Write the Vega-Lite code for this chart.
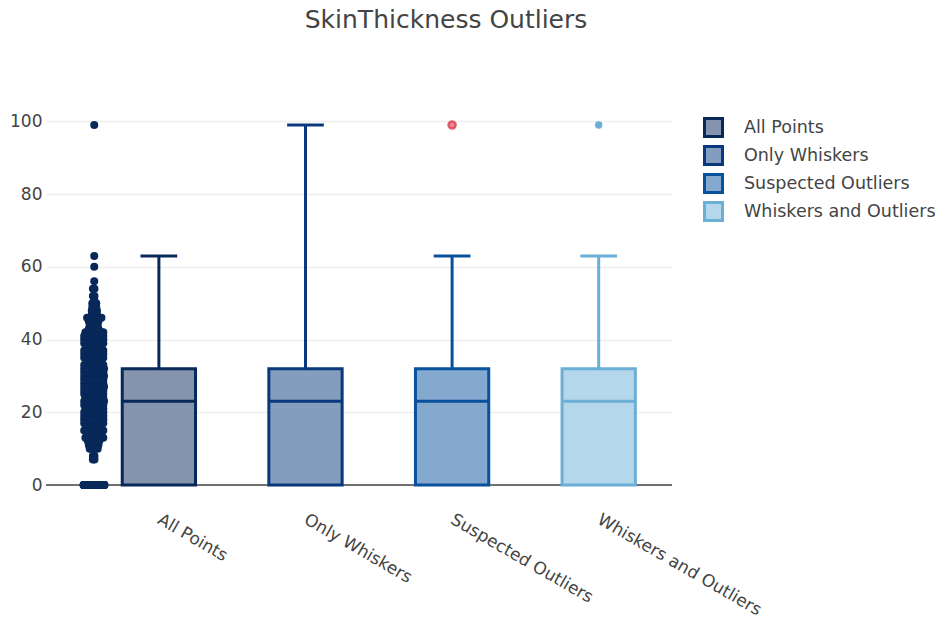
{
  "$schema": "https://vega.github.io/schema/vega-lite/v6.json",
  "autosize": {"type": "none"},
  "width": 626,
  "height": 396,
  "padding": {"left": 46, "top": 107, "right": 275, "bottom": 118},
  "background": "white",
  "title": {"text": "SkinThickness Outliers", "fontSize": 25, "font": "DejaVu Sans", "fontWeight": "normal", "color": "#444", "anchor": "middle", "frame": "group", "dx": 87, "baseline": "middle", "offset": 62},
  "config": {
    "view": {"stroke": null},
    "font": "DejaVu Sans",
    "axisY": {"grid": true, "gridColor": "#eeeeee", "gridWidth": 1.5, "domain": false, "ticks": false, "tickCount": 6, "labelFontSize": 17, "labelColor": "#444", "labelPadding": 4},
    "axisX": {"grid": false, "domain": false, "ticks": false, "labelAngle": 30, "labelAlign": "left", "labelBaseline": "middle", "labelFontSize": 17, "labelColor": "#444", "labelPadding": 15, "labelLimit": 400}
  },
  "datasets": {
    "boxes": [
      {"g": "All Points", "lo": 0, "q1": 0, "med": 23, "q3": 32, "hi": 63},
      {"g": "Only Whiskers", "lo": 0, "q1": 0, "med": 23, "q3": 32, "hi": 99},
      {"g": "Suspected Outliers", "lo": 0, "q1": 0, "med": 23, "q3": 32, "hi": 63},
      {"g": "Whiskers and Outliers", "lo": 0, "q1": 0, "med": 23, "q3": 32, "hi": 63}
    ],
    "outliers": [
      {"g": "Suspected Outliers", "v": 99, "t": "suspected"},
      {"g": "Whiskers and Outliers", "v": 99, "t": "outlier"}
    ],
    "skin": [
      {"v":0},{"v":0},{"v":0},{"v":0},{"v":0},{"v":0},{"v":0},{"v":0},{"v":0},{"v":0},
      {"v":0},{"v":0},{"v":0},{"v":0},{"v":0},{"v":0},{"v":0},{"v":0},{"v":0},{"v":0},
      {"v":0},{"v":0},{"v":0},{"v":0},{"v":0},{"v":0},{"v":0},{"v":0},{"v":0},{"v":0},
      {"v":0},{"v":0},{"v":0},{"v":0},{"v":0},{"v":0},{"v":0},{"v":0},{"v":0},{"v":0},
      {"v":0},{"v":0},{"v":0},{"v":0},{"v":0},{"v":0},{"v":0},{"v":0},{"v":0},{"v":0},
      {"v":0},{"v":0},{"v":0},{"v":0},{"v":0},{"v":0},{"v":0},{"v":0},{"v":0},{"v":0},
      {"v":0},{"v":0},{"v":0},{"v":0},{"v":0},{"v":0},{"v":0},{"v":0},{"v":0},{"v":0},
      {"v":0},{"v":0},{"v":0},{"v":0},{"v":0},{"v":0},{"v":0},{"v":0},{"v":0},{"v":0},
      {"v":0},{"v":0},{"v":0},{"v":0},{"v":0},{"v":0},{"v":0},{"v":0},{"v":0},{"v":0},
      {"v":0},{"v":0},{"v":0},{"v":0},{"v":0},{"v":0},{"v":0},{"v":0},{"v":0},{"v":0},
      {"v":0},{"v":0},{"v":0},{"v":0},{"v":0},{"v":0},{"v":0},{"v":0},{"v":0},{"v":0},
      {"v":0},{"v":0},{"v":0},{"v":0},{"v":0},{"v":0},{"v":0},{"v":0},{"v":0},{"v":0},
      {"v":0},{"v":0},{"v":0},{"v":0},{"v":0},{"v":0},{"v":0},{"v":0},{"v":0},{"v":0},
      {"v":0},{"v":0},{"v":0},{"v":0},{"v":0},{"v":0},{"v":0},{"v":0},{"v":0},{"v":0},
      {"v":0},{"v":0},{"v":0},{"v":0},{"v":0},{"v":0},{"v":0},{"v":0},{"v":0},{"v":0},
      {"v":0},{"v":0},{"v":0},{"v":0},{"v":0},{"v":0},{"v":0},{"v":0},{"v":0},{"v":0},
      {"v":0},{"v":0},{"v":0},{"v":0},{"v":0},{"v":0},{"v":0},{"v":0},{"v":0},{"v":0},
      {"v":0},{"v":0},{"v":0},{"v":0},{"v":0},{"v":0},{"v":0},{"v":0},{"v":0},{"v":0},
      {"v":0},{"v":0},{"v":0},{"v":0},{"v":0},{"v":0},{"v":0},{"v":0},{"v":0},{"v":0},
      {"v":0},{"v":0},{"v":0},{"v":0},{"v":0},{"v":0},{"v":0},{"v":0},{"v":0},{"v":0},
      {"v":0},{"v":0},{"v":0},{"v":0},{"v":0},{"v":0},{"v":0},{"v":0},{"v":0},{"v":0},
      {"v":0},{"v":0},{"v":0},{"v":0},{"v":0},{"v":0},{"v":0},{"v":0},{"v":0},{"v":0},
      {"v":0},{"v":0},{"v":0},{"v":0},{"v":0},{"v":0},{"v":0},
      {"v":7},{"v":7},{"v":8},{"v":8},
      {"v":10},{"v":10},{"v":10},{"v":10},{"v":10},
      {"v":11},{"v":11},{"v":11},{"v":11},{"v":11},{"v":11},
      {"v":12},{"v":12},{"v":12},{"v":12},{"v":12},{"v":12},{"v":12},
      {"v":13},{"v":13},{"v":13},{"v":13},{"v":13},{"v":13},{"v":13},{"v":13},{"v":13},{"v":13},{"v":13},
      {"v":14},{"v":14},{"v":14},{"v":14},{"v":14},{"v":14},
      {"v":15},{"v":15},{"v":15},{"v":15},{"v":15},{"v":15},{"v":15},{"v":15},{"v":15},{"v":15},{"v":15},{"v":15},{"v":15},{"v":15},
      {"v":16},{"v":16},{"v":16},{"v":16},{"v":16},{"v":16},
      {"v":17},{"v":17},{"v":17},{"v":17},{"v":17},{"v":17},{"v":17},{"v":17},{"v":17},{"v":17},{"v":17},{"v":17},{"v":17},{"v":17},
      {"v":18},{"v":18},{"v":18},{"v":18},{"v":18},{"v":18},{"v":18},{"v":18},{"v":18},{"v":18},{"v":18},{"v":18},{"v":18},{"v":18},{"v":18},{"v":18},{"v":18},{"v":18},{"v":18},{"v":18},
      {"v":19},{"v":19},{"v":19},{"v":19},{"v":19},{"v":19},{"v":19},{"v":19},{"v":19},{"v":19},{"v":19},{"v":19},{"v":19},{"v":19},{"v":19},{"v":19},{"v":19},{"v":19},
      {"v":20},{"v":20},{"v":20},{"v":20},{"v":20},{"v":20},{"v":20},{"v":20},{"v":20},{"v":20},{"v":20},{"v":20},{"v":20},
      {"v":21},{"v":21},{"v":21},{"v":21},{"v":21},{"v":21},{"v":21},{"v":21},{"v":21},{"v":21},
      {"v":22},{"v":22},{"v":22},{"v":22},{"v":22},{"v":22},{"v":22},{"v":22},{"v":22},{"v":22},{"v":22},{"v":22},{"v":22},{"v":22},{"v":22},{"v":22},
      {"v":23},{"v":23},{"v":23},{"v":23},{"v":23},{"v":23},{"v":23},{"v":23},{"v":23},{"v":23},{"v":23},{"v":23},{"v":23},{"v":23},{"v":23},{"v":23},{"v":23},{"v":23},{"v":23},{"v":23},{"v":23},{"v":23},
      {"v":24},{"v":24},{"v":24},{"v":24},{"v":24},{"v":24},{"v":24},{"v":24},{"v":24},{"v":24},{"v":24},{"v":24},
      {"v":25},{"v":25},{"v":25},{"v":25},{"v":25},{"v":25},{"v":25},{"v":25},{"v":25},{"v":25},{"v":25},{"v":25},{"v":25},{"v":25},{"v":25},{"v":25},
      {"v":26},{"v":26},{"v":26},{"v":26},{"v":26},{"v":26},{"v":26},{"v":26},{"v":26},{"v":26},{"v":26},{"v":26},{"v":26},{"v":26},{"v":26},{"v":26},
      {"v":27},{"v":27},{"v":27},{"v":27},{"v":27},{"v":27},{"v":27},{"v":27},{"v":27},{"v":27},{"v":27},{"v":27},{"v":27},{"v":27},{"v":27},{"v":27},{"v":27},{"v":27},{"v":27},{"v":27},{"v":27},{"v":27},{"v":27},
      {"v":28},{"v":28},{"v":28},{"v":28},{"v":28},{"v":28},{"v":28},{"v":28},{"v":28},{"v":28},{"v":28},{"v":28},{"v":28},{"v":28},{"v":28},{"v":28},{"v":28},{"v":28},{"v":28},{"v":28},
      {"v":29},{"v":29},{"v":29},{"v":29},{"v":29},{"v":29},{"v":29},{"v":29},{"v":29},{"v":29},{"v":29},{"v":29},{"v":29},{"v":29},{"v":29},{"v":29},{"v":29},
      {"v":30},{"v":30},{"v":30},{"v":30},{"v":30},{"v":30},{"v":30},{"v":30},{"v":30},{"v":30},{"v":30},{"v":30},{"v":30},{"v":30},{"v":30},{"v":30},{"v":30},{"v":30},{"v":30},{"v":30},{"v":30},{"v":30},{"v":30},{"v":30},{"v":30},{"v":30},{"v":30},
      {"v":31},{"v":31},{"v":31},{"v":31},{"v":31},{"v":31},{"v":31},{"v":31},{"v":31},{"v":31},{"v":31},{"v":31},{"v":31},{"v":31},{"v":31},{"v":31},{"v":31},{"v":31},{"v":31},
      {"v":32},{"v":32},{"v":32},{"v":32},{"v":32},{"v":32},{"v":32},{"v":32},{"v":32},{"v":32},{"v":32},{"v":32},{"v":32},{"v":32},{"v":32},{"v":32},{"v":32},{"v":32},{"v":32},{"v":32},{"v":32},{"v":32},{"v":32},{"v":32},{"v":32},{"v":32},{"v":32},{"v":32},{"v":32},{"v":32},{"v":32},
      {"v":33},{"v":33},{"v":33},{"v":33},{"v":33},{"v":33},{"v":33},{"v":33},{"v":33},{"v":33},{"v":33},{"v":33},{"v":33},{"v":33},{"v":33},{"v":33},{"v":33},{"v":33},{"v":33},{"v":33},
      {"v":34},{"v":34},{"v":34},{"v":34},{"v":34},{"v":34},{"v":34},{"v":34},
      {"v":35},{"v":35},{"v":35},{"v":35},{"v":35},{"v":35},{"v":35},{"v":35},{"v":35},{"v":35},{"v":35},{"v":35},{"v":35},{"v":35},{"v":35},
      {"v":36},{"v":36},{"v":36},{"v":36},{"v":36},{"v":36},{"v":36},{"v":36},{"v":36},{"v":36},{"v":36},{"v":36},{"v":36},{"v":36},
      {"v":37},{"v":37},{"v":37},{"v":37},{"v":37},{"v":37},{"v":37},{"v":37},{"v":37},{"v":37},{"v":37},{"v":37},{"v":37},{"v":37},{"v":37},{"v":37},
      {"v":38},{"v":38},{"v":38},{"v":38},{"v":38},{"v":38},{"v":38},
      {"v":39},{"v":39},{"v":39},{"v":39},{"v":39},{"v":39},{"v":39},{"v":39},{"v":39},{"v":39},{"v":39},{"v":39},{"v":39},{"v":39},{"v":39},{"v":39},{"v":39},{"v":39},
      {"v":40},{"v":40},{"v":40},{"v":40},{"v":40},{"v":40},{"v":40},{"v":40},{"v":40},{"v":40},{"v":40},{"v":40},{"v":40},{"v":40},{"v":40},{"v":40},
      {"v":41},{"v":41},{"v":41},{"v":41},{"v":41},{"v":41},{"v":41},{"v":41},{"v":41},{"v":41},{"v":41},{"v":41},{"v":41},{"v":41},{"v":41},
      {"v":42},{"v":42},{"v":42},{"v":42},{"v":42},{"v":42},{"v":42},{"v":42},{"v":42},{"v":42},{"v":42},
      {"v":43},{"v":43},{"v":43},{"v":43},{"v":43},{"v":43},
      {"v":44},{"v":44},{"v":44},{"v":44},{"v":44},
      {"v":45},{"v":45},{"v":45},{"v":45},{"v":45},{"v":45},
      {"v":46},{"v":46},{"v":46},{"v":46},{"v":46},{"v":46},{"v":46},{"v":46},
      {"v":47},{"v":47},{"v":47},{"v":47},
      {"v":48},{"v":48},{"v":48},{"v":48},
      {"v":49},{"v":49},{"v":49},
      {"v":50},{"v":50},{"v":50},
      {"v":51},{"v":52},{"v":52},{"v":54},{"v":54},{"v":56},{"v":60},{"v":63},{"v":99}
    ]
  },
  "layer": [
    {
      "data": {"values": [{"z": 0}]},
      "mark": {"type": "rule", "color": "#444", "strokeWidth": 1.5},
      "encoding": {
        "y": {"field": "z", "type": "quantitative", "title": null, "scale": {"domain": [-4.95, 103.95], "nice": false, "zero": false}}
      }
    },
    {
      "data": {"name": "boxes"},
      "mark": {"type": "bar", "width": 73.3, "strokeWidth": 3},
      "encoding": {
        "x": {"field": "g", "type": "nominal", "title": null, "sort": null, "scale": {"domain": ["All Points", "Only Whiskers", "Suspected Outliers", "Whiskers and Outliers"], "paddingInner": 0, "paddingOuter": 0.135, "align": 1}},
        "y": {"field": "q1", "type": "quantitative", "title": null},
        "y2": {"field": "q3"},
        "fill": {"field": "g", "type": "nominal", "title": null,
          "scale": {"domain": ["All Points", "Only Whiskers", "Suspected Outliers", "Whiskers and Outliers"], "range": ["#8394ac", "#849cbe", "#84a8ce", "#b5d7eb"]},
          "legend": {"orient": "none", "legendX": 657, "legendY": 10, "symbolType": "square", "symbolSize": 324, "symbolStrokeWidth": 3, "labelFontSize": 17.5, "labelColor": "#444", "labelOffset": 20, "rowPadding": -3, "labelLimit": 400, "symbolOpacity": 1}},
        "stroke": {"field": "g", "type": "nominal", "title": null,
          "scale": {"domain": ["All Points", "Only Whiskers", "Suspected Outliers", "Whiskers and Outliers"], "range": ["#072859", "#09387d", "#08519c", "#6baed6"]},
          "legend": {"orient": "none", "legendX": 657, "legendY": 10, "symbolType": "square", "symbolSize": 324, "symbolStrokeWidth": 3, "labelFontSize": 17.5, "labelColor": "#444", "labelOffset": 20, "rowPadding": -3, "labelLimit": 400, "symbolOpacity": 1}}
      }
    },
    {
      "data": {"name": "boxes"},
      "mark": {"type": "rule", "strokeWidth": 3},
      "encoding": {
        "x": {"field": "g", "type": "nominal", "title": null},
        "y": {"field": "q3", "type": "quantitative", "title": null},
        "y2": {"field": "hi"},
        "color": {"field": "g", "type": "nominal", "legend": null,
          "scale": {"domain": ["All Points", "Only Whiskers", "Suspected Outliers", "Whiskers and Outliers"], "range": ["#072859", "#09387d", "#08519c", "#6baed6"]}}
      }
    },
    {
      "data": {"name": "boxes"},
      "mark": {"type": "tick", "orient": "horizontal", "size": 36.7, "thickness": 3, "opacity": 1},
      "encoding": {
        "x": {"field": "g", "type": "nominal", "title": null},
        "y": {"field": "hi", "type": "quantitative", "title": null},
        "color": {"field": "g", "type": "nominal", "legend": null}
      }
    },
    {
      "data": {"name": "boxes"},
      "mark": {"type": "tick", "orient": "horizontal", "size": 73.3, "thickness": 3, "opacity": 1},
      "encoding": {
        "x": {"field": "g", "type": "nominal", "title": null},
        "y": {"field": "med", "type": "quantitative", "title": null},
        "color": {"field": "g", "type": "nominal", "legend": null}
      }
    },
    {
      "data": {"name": "skin"},
      "transform": [
        {"joinaggregate": [{"op": "count", "as": "n"}], "groupby": ["v"]},
        {"window": [{"op": "row_number", "as": "k"}], "groupby": ["v"]},
        {"calculate": "(((datum.k * 0.6180339887) % 1) * 2 - 1) * min(1, datum.n / 10)", "as": "j"}
      ],
      "mark": {"type": "point", "filled": true, "size": 64, "opacity": 1, "color": "#072859"},
      "encoding": {
        "x": {"datum": "All Points", "type": "nominal", "title": null},
        "xOffset": {"field": "j", "type": "quantitative", "scale": {"domain": [-1, 1], "range": [-2.1, 18.9]}},
        "y": {"field": "v", "type": "quantitative", "title": null}
      }
    },
    {
      "data": {"name": "outliers"},
      "transform": [{"filter": "datum.t === 'suspected'"}],
      "mark": {"type": "point", "filled": true, "size": 50, "fill": "#db4052", "fillOpacity": 0.6, "stroke": "#db4052", "strokeOpacity": 0.8, "strokeWidth": 2.5},
      "encoding": {
        "x": {"field": "g", "type": "nominal", "title": null},
        "y": {"field": "v", "type": "quantitative", "title": null}
      }
    },
    {
      "data": {"name": "outliers"},
      "transform": [{"filter": "datum.t === 'outlier'"}],
      "mark": {"type": "point", "filled": true, "size": 55, "opacity": 1, "color": "#6baed6"},
      "encoding": {
        "x": {"field": "g", "type": "nominal", "title": null},
        "y": {"field": "v", "type": "quantitative", "title": null}
      }
    }
  ]
}
